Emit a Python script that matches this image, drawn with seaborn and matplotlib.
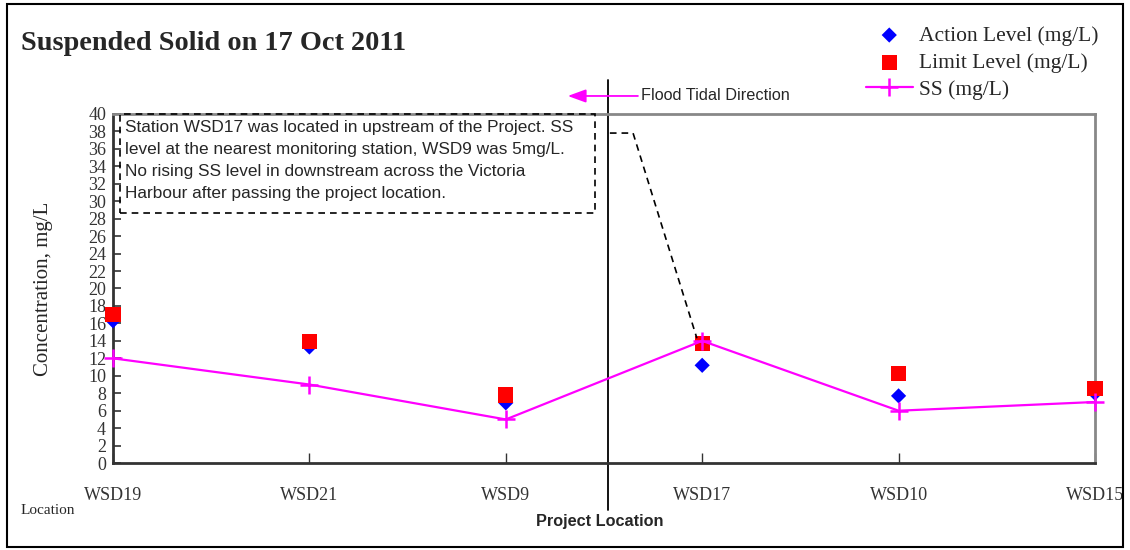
import numpy as np
import pandas as pd
import seaborn as sns
import matplotlib.pyplot as plt
from matplotlib.patches import Rectangle

# station data
locations = ["WSD19", "WSD21", "WSD9", "WSD17", "WSD10", "WSD15"]
action_level = [16.3, 13.3, 6.9, 11.2, 7.7, 8.0]
limit_level = [17.0, 13.9, 7.8, 13.7, 10.3, 8.5]
ss = [12, 9, 5, 14, 6, 7]

df = pd.DataFrame({"pos": np.arange(len(locations)), "location": locations,
                   "action": action_level, "limit": limit_level, "ss": ss})

sns.set_style("white")
plt.rcParams["font.family"] = ["Liberation Serif", "DejaVu Serif"]
sans = ["Liberation Sans", "DejaVu Sans"]

fig = plt.figure(figsize=(11.3, 5.5), dpi=100)
ax = fig.add_axes([0.100, 0.158, 0.869, 0.635])

sns.scatterplot(data=df, x="pos", y="action", marker="D", color="#0000ff", s=60,
                edgecolor="none", label="Action Level (mg/L)", ax=ax, clip_on=False, zorder=3)
sns.scatterplot(data=df, x="pos", y="limit", marker="s", color="#ff0000", s=120,
                edgecolor="none", label="Limit Level (mg/L)", ax=ax, clip_on=False, zorder=4)
sns.lineplot(data=df, x="pos", y="ss", color="#ff00ff", linewidth=1.6, marker="+",
             markersize=13, markeredgewidth=1.8, markeredgecolor="#ff00ff", sort=False,
             label="SS (mg/L)", ax=ax, clip_on=False, zorder=5)

ax.set_xlim(0, len(locations) - 1)
ax.set_ylim(0, 40)
ax.set_yticks(range(0, 41, 2))
ax.set_xticks(df["pos"])
ax.set_xticklabels(locations, fontsize=13, color="#222222")
ax.tick_params(axis="y", left=True, direction="in", length=6, width=1.2, labelsize=13,
               colors="#333333", pad=5)
ax.tick_params(axis="x", bottom=True, direction="in", length=7, width=1, pad=17,
               colors="#333333")
ax.set_xlabel("")
ax.set_ylabel("Concentration, mg/L", fontsize=15)
ax.yaxis.set_label_coords(-0.061, 0.5)

for side in ["left", "bottom"]:
    ax.spines[side].set_color("#333333")
    ax.spines[side].set_linewidth(2)
for side in ["top", "right"]:
    ax.spines[side].set_color("#888888")
    ax.spines[side].set_linewidth(2)

# project location divider
ax.plot([2.52, 2.52], [-5.4, 43.9], color="black", lw=1.3, clip_on=False, zorder=2)

# note box and leader
note = ("Station WSD17 was located in upstream of the Project. SS\n"
        "level at the nearest monitoring station, WSD9 was 5mg/L.\n"
        "No rising SS level in downstream across the Victoria\n"
        "Harbour after passing the project location.")
ax.add_patch(Rectangle((0.036, 28.65), 2.418, 11.35, fill=False, ls=(0, (4, 3)),
                       lw=1.2, ec="black", clip_on=False, zorder=6))
ax.text(0.06, 39.3, note, family=sans, fontsize=12.4, va="top", ha="left",
        linespacing=1.58)
ax.plot([2.53, 2.648, 2.973], [37.8, 37.8, 14.3], color="black", lw=1.2,
        ls=(0, (4, 3)), clip_on=False, zorder=6)

# flood tide arrow
fig.text(0.567, 0.8255, "Flood Tidal Direction", family=sans, fontsize=11.7,
         va="center", ha="left")
ax.annotate("", xy=(0.5, 0.8255), xytext=(0.567, 0.8255), xycoords="figure fraction",
            arrowprops=dict(arrowstyle="-|>,head_length=1.1,head_width=0.4",
                            color="#ff00ff", lw=1.3))

fig.text(0.531, 0.051, "Project Location", family=sans, fontsize=11.7,
         fontweight="bold", ha="center", va="center")
fig.text(0.018, 0.071, "Location", fontsize=11, ha="left", va="center")
fig.text(0.019, 0.92, "Suspended Solid on 17 Oct 2011", fontsize=20.3, fontweight="bold",
         ha="left", va="center")

ax.legend(loc="upper right", bbox_to_anchor=(0.982, 0.973), bbox_transform=fig.transFigure,
          frameon=False, fontsize=15.5, labelspacing=0.33, handlelength=2.2,
          handletextpad=0.3, borderpad=0)

fig.add_artist(Rectangle((0.006, 0.006), 0.988, 0.986, transform=fig.transFigure,
                         fill=False, ec="black", lw=1.5))

fig.savefig("out.png", dpi=100)
